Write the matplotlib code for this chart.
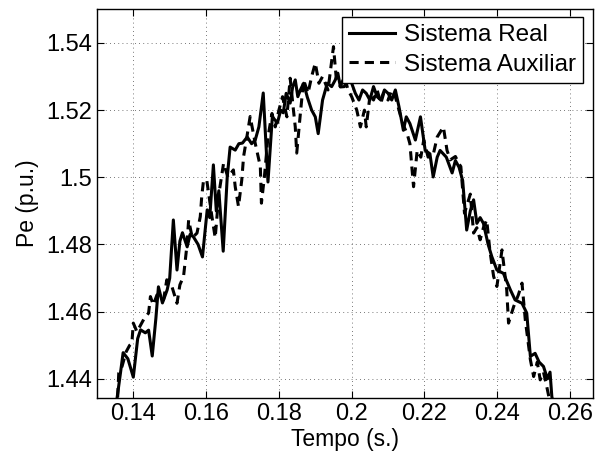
import matplotlib
matplotlib.use("Agg")
import matplotlib.pyplot as plt

plt.rcParams['font.family'] = ['Liberation Sans', 'DejaVu Sans']

# Sistema Real (solid)
t_real = [0.1350, 0.1365, 0.1372, 0.1385, 0.1400, 0.1412, 0.1420, 0.1433, 0.1442, 0.1452,
          0.1462, 0.1469, 0.1480, 0.1493, 0.1500, 0.1510, 0.1520, 0.1528, 0.1535, 0.1548,
          0.1556, 0.1565, 0.1578, 0.1590, 0.1603, 0.1610, 0.1620, 0.1628, 0.1635, 0.1647,
          0.1658, 0.1666, 0.1680, 0.1690, 0.1700, 0.1713, 0.1725, 0.1735, 0.1745, 0.1757,
          0.1770, 0.1782, 0.1796, 0.1805, 0.1812, 0.1820, 0.1831, 0.1838, 0.1845, 0.1852,
          0.1859, 0.1868, 0.1878, 0.1890, 0.1900, 0.1908, 0.1920, 0.1933, 0.1945, 0.1955,
          0.1962, 0.1969, 0.1980, 0.1990, 0.2000, 0.2010, 0.2020, 0.2030, 0.2040, 0.2050,
          0.2060, 0.2070, 0.2080, 0.2090, 0.2100, 0.2110, 0.2120, 0.2130, 0.2142, 0.2150,
          0.2160, 0.2175, 0.2189, 0.2202, 0.2215, 0.2224, 0.2235, 0.2243, 0.2260, 0.2276,
          0.2285, 0.2295, 0.2305, 0.2316, 0.2326, 0.2335, 0.2344, 0.2353, 0.2362, 0.2375,
          0.2385, 0.2399, 0.2417, 0.2436, 0.2449, 0.2468, 0.2481, 0.2491, 0.2504, 0.2515,
          0.2527, 0.2538, 0.2545, 0.2550, 0.2560]
pe_real = [1.4300, 1.4420, 1.4478, 1.4460, 1.4405, 1.4520, 1.4546, 1.4537, 1.4545, 1.4468,
           1.4580, 1.4674, 1.4626, 1.4665, 1.4700, 1.4873, 1.4724, 1.4810, 1.4835, 1.4793,
           1.4830, 1.4823, 1.4800, 1.4763, 1.4903, 1.4880, 1.5037, 1.4900, 1.4960, 1.4780,
           1.5000, 1.5090, 1.5081, 1.5100, 1.5102, 1.5120, 1.5100, 1.5111, 1.5150, 1.5251,
           1.4986, 1.5180, 1.5162, 1.5200, 1.5192, 1.5250, 1.5221, 1.5270, 1.5290, 1.5240,
           1.5260, 1.5280, 1.5239, 1.5200, 1.5180, 1.5130, 1.5230, 1.5280, 1.5270, 1.5290,
           1.5310, 1.5269, 1.5270, 1.5300, 1.5280, 1.5250, 1.5230, 1.5260, 1.5250, 1.5230,
           1.5270, 1.5240, 1.5230, 1.5260, 1.5250, 1.5230, 1.5260, 1.5210, 1.5140, 1.5180,
           1.5160, 1.5111, 1.5180, 1.5080, 1.5070, 1.5001, 1.5060, 1.5080, 1.5060, 1.5013,
           1.5050, 1.5030, 1.4990, 1.4843, 1.4900, 1.4933, 1.4863, 1.4880, 1.4863, 1.4800,
           1.4764, 1.4724, 1.4714, 1.4665, 1.4635, 1.4625, 1.4596, 1.4467, 1.4476, 1.4450,
           1.4437, 1.4400, 1.4420, 1.4347, 1.4300]

# Sistema Auxiliar (dashed)
t_aux = [0.1355, 0.1360, 0.1369, 0.1380, 0.1390, 0.1396, 0.1400, 0.1410, 0.1420, 0.1430,
         0.1442, 0.1447, 0.1455, 0.1465, 0.1475, 0.1483, 0.1492, 0.1506, 0.1520, 0.1528,
         0.1538, 0.1547, 0.1552, 0.1562, 0.1575, 0.1584, 0.1588, 0.1593, 0.1602, 0.1616,
         0.1625, 0.1635, 0.1648, 0.1660, 0.1675, 0.1680, 0.1689, 0.1698, 0.1703, 0.1712,
         0.1721, 0.1735, 0.1749, 0.1752, 0.1760, 0.1770, 0.1781, 0.1790, 0.1800, 0.1810,
         0.1822, 0.1831, 0.1840, 0.1845, 0.1849, 0.1859, 0.1868, 0.1880, 0.1890, 0.1900,
         0.1910, 0.1920, 0.1935, 0.1950, 0.1958, 0.1969, 0.1980, 0.1990, 0.2000, 0.2014,
         0.2024, 0.2035, 0.2040, 0.2051, 0.2060, 0.2070, 0.2080, 0.2088, 0.2100, 0.2110,
         0.2120, 0.2130, 0.2140, 0.2152, 0.2160, 0.2166, 0.2170, 0.2180, 0.2190, 0.2198,
         0.2210, 0.2225, 0.2235, 0.2252, 0.2262, 0.2271, 0.2285, 0.2295, 0.2300, 0.2310,
         0.2326, 0.2335, 0.2344, 0.2353, 0.2362, 0.2371, 0.2380, 0.2390, 0.2399, 0.2413,
         0.2420, 0.2426, 0.2431, 0.2445, 0.2458, 0.2468, 0.2477, 0.2491, 0.2500, 0.2510,
         0.2518, 0.2527, 0.2536, 0.2545]
pe_aux = [1.4300, 1.4417, 1.4437, 1.4480, 1.4500, 1.4506, 1.4566, 1.4540, 1.4560, 1.4580,
          1.4596, 1.4645, 1.4620, 1.4650, 1.4640, 1.4635, 1.4695, 1.4675, 1.4625, 1.4680,
          1.4705, 1.4794, 1.4873, 1.4820, 1.4834, 1.4883, 1.4943, 1.4992, 1.4990, 1.4883,
          1.4820, 1.4950, 1.5042, 1.5000, 1.5022, 1.4972, 1.4913, 1.4992, 1.5062, 1.5120,
          1.5181, 1.5101, 1.5032, 1.4923, 1.5000, 1.5120, 1.5190, 1.5150, 1.5200, 1.5240,
          1.5180, 1.5295, 1.5200, 1.5150, 1.5072, 1.5190, 1.5290, 1.5250, 1.5300, 1.5340,
          1.5280, 1.5300, 1.5260, 1.5389, 1.5290, 1.5270, 1.5300, 1.5260, 1.5240, 1.5200,
          1.5150, 1.5200, 1.5150, 1.5250, 1.5230, 1.5260, 1.5220, 1.5250, 1.5230, 1.5260,
          1.5240, 1.5200, 1.5160, 1.5131, 1.5100, 1.5022, 1.4972, 1.5080, 1.5060, 1.5111,
          1.5060, 1.5072, 1.5120, 1.5150, 1.5080, 1.5052, 1.5062, 1.5040, 1.5032, 1.4893,
          1.4950, 1.4834, 1.4850, 1.4814, 1.4850, 1.4873, 1.4780, 1.4705, 1.4675, 1.4784,
          1.4720, 1.4665, 1.4566, 1.4615, 1.4650, 1.4685, 1.4576, 1.4457, 1.4407, 1.4450,
          1.4397, 1.4420, 1.4377, 1.4330]

xticks = [0.14, 0.16, 0.18, 0.2, 0.22, 0.24, 0.26]
xtick_labels = ["0.14", "0.16", "0.18", "0.2", "0.22", "0.24", "0.26"]
yticks = [1.44, 1.46, 1.48, 1.50, 1.52, 1.54]
ytick_labels = ["1.44", "1.46", "1.48", "1.5", "1.52", "1.54"]

fig = plt.figure(figsize=(6.02, 4.53), dpi=100)
ax = fig.add_axes([0.161, 0.1214, 0.824, 0.8587])

ax.plot(t_real, pe_real, color="black", lw=2.2, label="Sistema Real")
ax.plot(t_aux, pe_aux, color="black", lw=2.2, dashes=(3, 2), label="Sistema Auxiliar")

ax.set_xlim(0.130, 0.2663)
ax.set_ylim(1.4343, 1.5501)
ax.set_xticks(xticks)
ax.set_xticklabels(xtick_labels)
ax.set_yticks(yticks)
ax.set_yticklabels(ytick_labels)
ax.tick_params(direction="in", top=True, right=True, labelsize=17, length=5, width=0.8)
ax.grid(True, linestyle=(0, (1, 4)), color="black", lw=0.6, alpha=0.7)
for s in ax.spines.values():
    s.set_linewidth(1.0)

ax.set_xlabel("Tempo (s.)", fontsize=16.5, labelpad=2)
ax.set_ylabel("Pe (p.u.)", fontsize=16.5, labelpad=5)

leg = ax.legend(loc="upper right", bbox_to_anchor=(0.98, 0.979), borderaxespad=0,
                fontsize=17.5, handlelength=1.9, handletextpad=0.35, labelspacing=0.3,
                borderpad=0.3, fancybox=False, framealpha=1, edgecolor="black")
leg.get_frame().set_linewidth(1.0)

fig.savefig("out.png", dpi=100)
